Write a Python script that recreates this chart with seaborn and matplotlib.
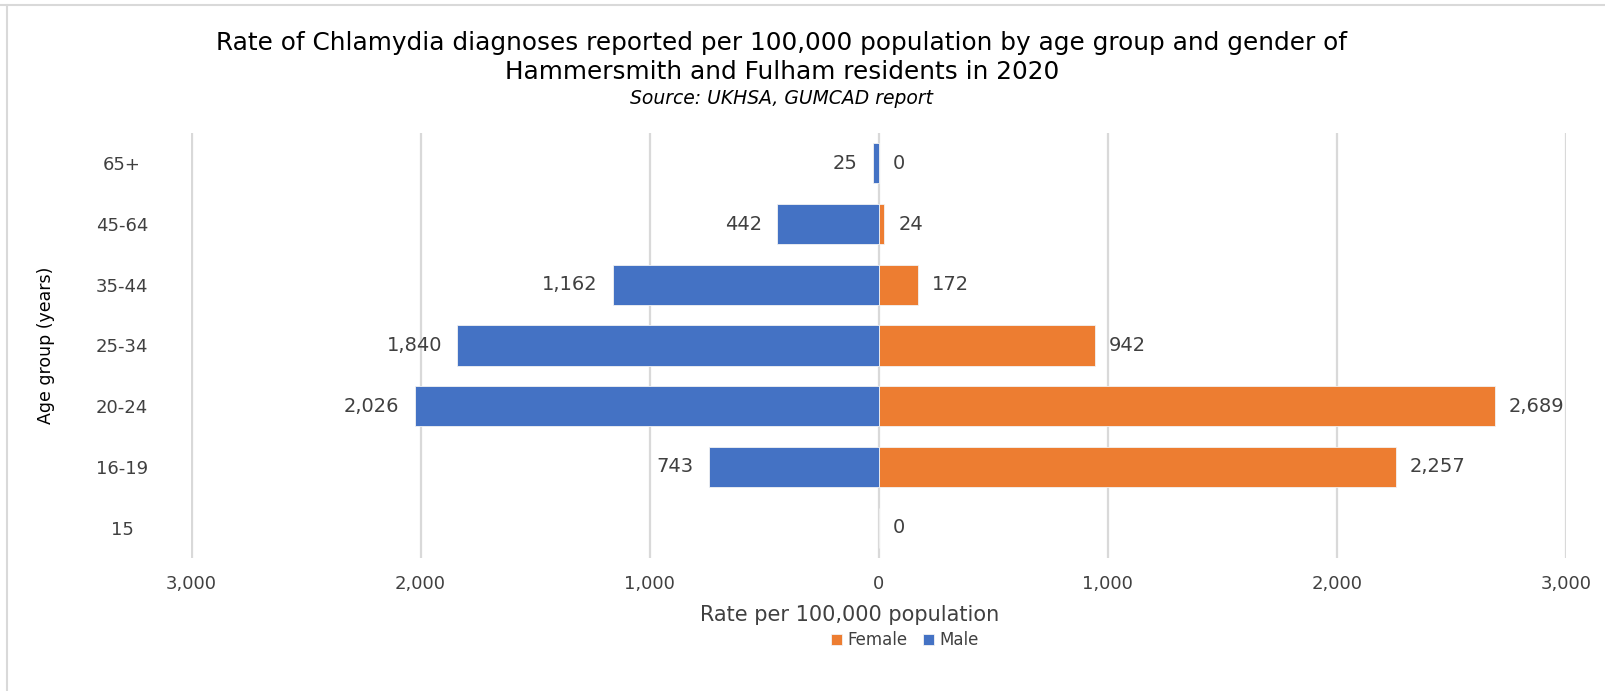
import numpy as np
import pandas as pd
import matplotlib
matplotlib.use("Agg")
import matplotlib.pyplot as plt
import seaborn as sns

# Chlamydia diagnosis rates per 100,000, Hammersmith and Fulham, 2020
age_groups = ["65+", "45-64", "35-44", "25-34", "20-24", "16-19", "15"]
male_rates = [25, 442, 1162, 1840, 2026, 743, np.nan]
female_rates = [0, 24, 172, 942, 2689, 2257, 0]
x_ticks = [-3000, -2000, -1000, 0, 1000, 2000, 3000]

BLUE = "#4472C4"
ORANGE = "#ED7D31"
GRID = "#D9D9D9"
TEXT = "#404040"

sns.set_theme(style="white")
plt.rcParams["font.family"] = ["DejaVu Sans"]

df = pd.concat([
    pd.DataFrame({"age": age_groups, "sex": "Female", "rate": female_rates}),
    pd.DataFrame({"age": age_groups, "sex": "Male", "rate": [-v for v in male_rates]}),
], ignore_index=True)

fig = plt.figure(figsize=(16.06, 6.91), dpi=100)
ax_left, ax_right = 191.5 / 1606, 1566 / 1606
ax_bottom, ax_top = 1 - 558 / 691, 1 - 133 / 691
ax = fig.add_axes([ax_left, ax_bottom, ax_right - ax_left, ax_top - ax_bottom])

sns.barplot(data=df, y="age", x="rate", hue="sex", order=age_groups,
            hue_order=["Female", "Male"], palette=[ORANGE, BLUE], saturation=1,
            dodge=False, width=0.66, orient="h", ax=ax,
            edgecolor="#F2F2F2", linewidth=0.6, legend=True)

ax.set_xlim(-3000, 3000)
ax.set_ylim(len(age_groups) - 0.5, -0.5)
ax.set_xticks(x_ticks)
ax.set_xticklabels([f"{abs(v):,}" for v in x_ticks], fontsize=13, color=TEXT)
ax.tick_params(axis="y", labelsize=13, labelcolor=TEXT, length=0, pad=50)
for lbl in ax.get_yticklabels():
    lbl.set_horizontalalignment("center")
ax.tick_params(axis="x", length=0, pad=12)
ax.xaxis.grid(True, color=GRID, linewidth=1.6)
ax.set_axisbelow(True)
for s in ax.spines.values():
    s.set_visible(False)

ax.set_xlabel("Rate per 100,000 population", fontsize=15, color=TEXT)
ax.xaxis.set_label_coords(0.479, -0.111, transform=ax.transAxes)
ax.xaxis.label.set_verticalalignment("top")
ax.set_ylabel("Age group (years)", fontsize=12.5, color="#000000")
ax.yaxis.set_label_coords(-0.0993, 0.5)

# value labels beside each bar end
for i, (m, f) in enumerate(zip(male_rates, female_rates)):
    if not np.isnan(m):
        ax.annotate(f"{int(m):,}", xy=(-m, i), xytext=(-11, 0), textcoords="offset points",
                    ha="right", va="center", fontsize=14, color=TEXT)
    ax.annotate(f"{int(f):,}", xy=(f, i), xytext=(10, 0), textcoords="offset points",
                ha="left", va="center", fontsize=14, color=TEXT)

leg = ax.legend(loc="center", bbox_to_anchor=(0.519, -0.193), bbox_transform=ax.transAxes,
                ncol=2, frameon=False, fontsize=12, handlelength=0.65, handleheight=0.65,
                handletextpad=0.35, columnspacing=0.9)
for t in leg.get_texts():
    t.set_color(TEXT)

title_x = 782 / 1606
fig.text(title_x, 1 - 43 / 691, "Rate of Chlamydia diagnoses reported per 100,000 population by age group and gender of",
         ha="center", va="center", fontsize=17.8, color="#000000")
fig.text(title_x, 1 - 72 / 691, "Hammersmith and Fulham residents in 2020",
         ha="center", va="center", fontsize=17.8, color="#000000")
fig.text(title_x, 1 - 98 / 691, "Source: UKHSA, GUMCAD report",
         ha="center", va="center", fontsize=13.5, style="italic", color="#000000")

# chart frame edges
fig.add_artist(plt.Line2D([0, 1], [1 - 5 / 691] * 2, transform=fig.transFigure, color="#D9D9D9", linewidth=1.5))
fig.add_artist(plt.Line2D([7 / 1606] * 2, [0, 1 - 5 / 691], transform=fig.transFigure, color="#D9D9D9", linewidth=1.5))

fig.savefig("out.png", dpi=100, facecolor="white")
